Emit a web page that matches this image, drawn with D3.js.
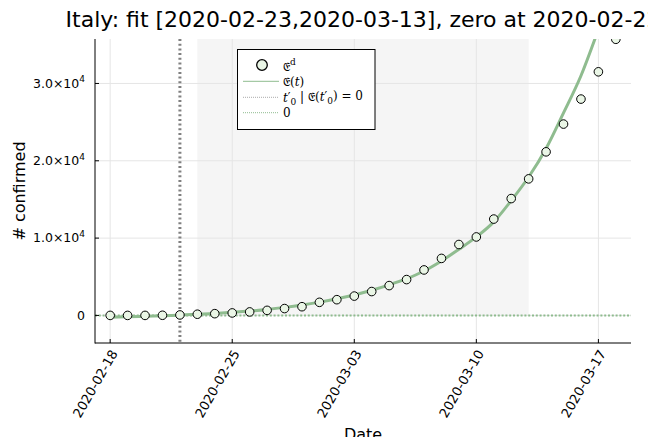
<!DOCTYPE html>
<html>
<head>
<meta charset="utf-8">
<script src="https://cdn.jsdelivr.net/npm/d3@7"></script>
<style>
  body { margin: 0; background: #fff; }
  svg { display: block; font-family: "DejaVu Sans", sans-serif; }
</style>
</head>
<body>
<svg id="chart" width="648" height="437"></svg>
<script>
const dates = ["2020-02-18", "2020-02-19", "2020-02-20", "2020-02-21", "2020-02-22", "2020-02-23",
    "2020-02-24", "2020-02-25", "2020-02-26", "2020-02-27", "2020-02-28", "2020-02-29",
    "2020-03-01", "2020-03-02", "2020-03-03", "2020-03-04", "2020-03-05", "2020-03-06",
    "2020-03-07", "2020-03-08", "2020-03-09", "2020-03-10", "2020-03-11", "2020-03-12",
    "2020-03-13", "2020-03-14", "2020-03-15", "2020-03-16", "2020-03-17", "2020-03-18"];
const confirmed = [3, 3, 3, 20, 62, 155, 229, 322, 453, 655, 888, 1128,
    1694, 2036, 2502, 3089, 3858, 4636, 5883, 7375, 9172, 10149, 12462, 15113,
    17660, 21157, 24747, 27980, 31506, 35713];

// fitted curve (02-18 .. 03-17)
const fitValues = [-230, -180, -120, -50, 40, 140, 260, 400, 570, 780, 1040, 1350,
    1720, 2150, 2650, 3250, 3950, 4750, 5750, 7050, 8550, 10150, 12100, 14850,
    17900, 21600, 26200, 31000, 37000];

const fitWindow = ["2020-02-23", "2020-03-13"];
const zeroDate = "2020-02-22";
const xTicks = ["2020-02-18", "2020-02-25", "2020-03-03", "2020-03-10", "2020-03-17"];
const yTicks = [0, 10000, 20000, 30000];
const yTickLabels = [["0", ""], ["1.0×10", "4"], ["2.0×10", "4"], ["3.0×10", "4"]];

const parse = d3.utcParse("%Y-%m-%d");
const day = 864e5;
const green = "#8fbc8f";

const svg = d3.select("#chart");
const m = { left: 95, right: 631, top: 39, bottom: 343 };

const x = d3.scaleUtc()
    .domain([+parse(dates[0]) - 0.87 * day, +parse(dates[dates.length - 1]) + 0.87 * day])
    .range([m.left, m.right]);
const y = d3.scaleLinear()
    .domain([-3566, 35750])
    .range([m.bottom, m.top]);

svg.append("defs").append("clipPath").attr("id", "clip")
    .append("rect")
        .attr("x", m.left).attr("y", m.top)
        .attr("width", m.right - m.left).attr("height", m.bottom - m.top);

// fit window
svg.append("rect")
    .attr("x", x(parse(fitWindow[0])))
    .attr("y", m.top)
    .attr("width", x(parse(fitWindow[1])) - x(parse(fitWindow[0])))
    .attr("height", y(0) - m.top)
    .attr("fill", "#f5f5f5");

// grid
svg.append("g")
    .selectAll("line")
    .data(xTicks)
    .join("line")
        .attr("x1", d => x(parse(d))).attr("x2", d => x(parse(d)))
        .attr("y1", m.top).attr("y2", m.bottom)
        .attr("stroke", "#e5e5e5");
svg.append("g")
    .selectAll("line")
    .data(yTicks)
    .join("line")
        .attr("x1", m.left).attr("x2", m.right)
        .attr("y1", d => y(d)).attr("y2", d => y(d))
        .attr("stroke", "#e5e5e5");

const plot = svg.append("g").attr("clip-path", "url(#clip)");

// zero line
plot.append("line")
    .attr("x1", m.left).attr("x2", m.right)
    .attr("y1", y(0)).attr("y2", y(0))
    .attr("stroke", green)
    .attr("stroke-width", 2)
    .attr("stroke-dasharray", "2,1.8");

// zero crossing
plot.append("line")
    .attr("x1", x(parse(zeroDate))).attr("x2", x(parse(zeroDate)))
    .attr("y1", m.top).attr("y2", m.bottom)
    .attr("stroke", "#808080")
    .attr("stroke-width", 3)
    .attr("stroke-dasharray", "2,2.7");

// fit curve
const line = d3.line()
    .x((d, i) => x(parse(dates[i])))
    .y(d => y(d))
    .curve(d3.curveMonotoneX);
plot.append("path")
    .datum(fitValues)
    .attr("d", line)
    .attr("fill", "none")
    .attr("stroke", green)
    .attr("stroke-width", 3);

// data points
plot.append("g")
    .selectAll("circle")
    .data(confirmed)
    .join("circle")
        .attr("cx", (d, i) => x(parse(dates[i])))
        .attr("cy", d => y(d))
        .attr("r", 4.3)
        .attr("fill", "#eaf6e6")
        .attr("stroke", "#000")
        .attr("stroke-width", 1);

// axes
svg.append("line")
    .attr("x1", m.left).attr("x2", m.left).attr("y1", m.top).attr("y2", m.bottom + 0.5)
    .attr("stroke", "#000");
svg.append("line")
    .attr("x1", m.left).attr("x2", m.right).attr("y1", m.bottom).attr("y2", m.bottom)
    .attr("stroke", "#000");

svg.append("g")
    .selectAll("line")
    .data(xTicks)
    .join("line")
        .attr("x1", d => x(parse(d))).attr("x2", d => x(parse(d)))
        .attr("y1", m.bottom).attr("y2", m.bottom - 4)
        .attr("stroke", "#000");
svg.append("g")
    .selectAll("line")
    .data(yTicks)
    .join("line")
        .attr("x1", m.left).attr("x2", m.left + 4)
        .attr("y1", d => y(d)).attr("y2", d => y(d))
        .attr("stroke", "#000");

svg.append("g")
    .selectAll("text")
    .data(xTicks)
    .join("text")
        .attr("transform", d => `translate(${x(parse(d)) + 4},${m.bottom + 8}) rotate(-60)`)
        .attr("text-anchor", "end")
        .attr("dy", "0.35em")
        .attr("font-size", 13)
        .text(d => d);

const yl = svg.append("g")
    .selectAll("text")
    .data(yTicks)
    .join("text")
        .attr("x", 85)
        .attr("y", d => y(d))
        .attr("dy", "0.35em")
        .attr("text-anchor", "end")
        .attr("font-size", 12.5);
yl.append("tspan").text((d, i) => yTickLabels[i][0]);
yl.append("tspan")
    .attr("font-size", 9)
    .attr("dy", "-0.6em")
    .text((d, i) => yTickLabels[i][1]);

// labels
svg.append("text")
    .attr("x", (m.left + m.right) / 2)
    .attr("y", 27)
    .attr("text-anchor", "middle")
    .attr("font-size", 22)
    .text("Italy: fit [2020-02-23,2020-03-13], zero at 2020-02-22");

svg.append("text")
    .attr("transform", `translate(25,${(m.top + m.bottom) / 2}) rotate(-90)`)
    .attr("text-anchor", "middle")
    .attr("font-size", 16)
    .text("# confirmed");

svg.append("text")
    .attr("x", (m.left + m.right) / 2)
    .attr("y", 440)
    .attr("text-anchor", "middle")
    .attr("font-size", 16)
    .text("Date");

// legend
const lg = svg.append("g").attr("font-family", "'DejaVu Serif', serif").attr("font-size", 12);
lg.append("rect")
    .attr("x", 237.5).attr("y", 49.5)
    .attr("width", 137.5).attr("height", 80)
    .attr("fill", "#fff")
    .attr("stroke", "#000");
lg.append("circle")
    .attr("cx", 262).attr("cy", 65).attr("r", 5.3)
    .attr("fill", "#eaf6e6").attr("stroke", "#000").attr("stroke-width", 1.3);
lg.append("line")
    .attr("x1", 243).attr("x2", 279).attr("y1", 81.3).attr("y2", 81.3)
    .attr("stroke", green).attr("stroke-width", 1);
lg.append("line")
    .attr("x1", 243).attr("x2", 279).attr("y1", 97.3).attr("y2", 97.3)
    .attr("stroke", "#aaa").attr("stroke-width", 1).attr("stroke-dasharray", "1,1");
lg.append("line")
    .attr("x1", 243).attr("x2", 279).attr("y1", 112.7).attr("y2", 112.7)
    .attr("stroke", green).attr("stroke-width", 1).attr("stroke-dasharray", "1,1");

const t1 = lg.append("text").attr("x", 283).attr("y", 71);
t1.append("tspan").text("𝔈");
t1.append("tspan").attr("font-size", 9).attr("dy", "-0.7em").text("d");

const t2 = lg.append("text").attr("x", 283).attr("y", 86);
t2.append("tspan").text("𝔈(");
t2.append("tspan").attr("font-style", "italic").text("t");
t2.append("tspan").text(")");

const t3 = lg.append("text").attr("x", 283).attr("y", 102);
t3.append("tspan").attr("font-style", "italic").text("t");
t3.append("tspan").text("′");
t3.append("tspan").attr("font-size", 9).attr("dy", "0.3em").text("0");
t3.append("tspan").attr("dy", "-0.3em").text(" | 𝔈(");
t3.append("tspan").attr("font-style", "italic").text("t");
t3.append("tspan").text("′");
t3.append("tspan").attr("font-size", 9).attr("dy", "0.3em").text("0");
t3.append("tspan").attr("dy", "-0.3em").text(") = 0");

lg.append("text").attr("x", 283).attr("y", 117).text("0");
</script>
</body>
</html>
